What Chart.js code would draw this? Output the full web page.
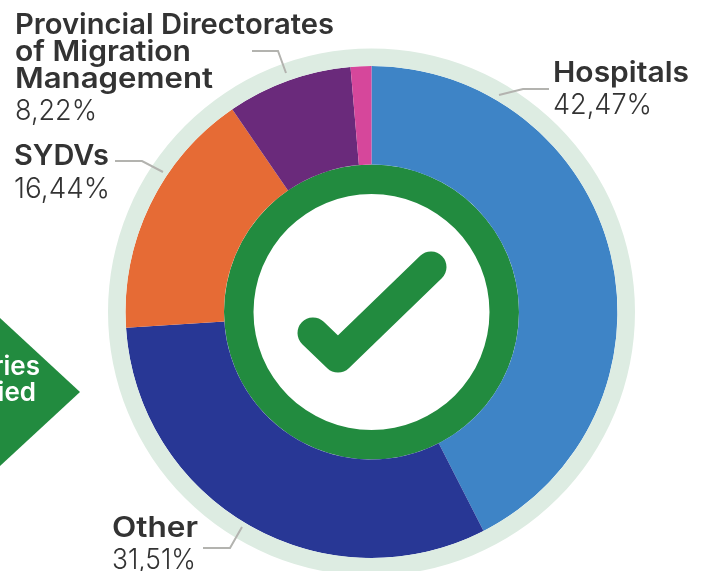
<!DOCTYPE html>
<html>
<head>
<meta charset="utf-8">
<title>Beneficiaries by institution</title>
<script src="https://cdn.jsdelivr.net/npm/chart.js@4"></script>
<style>
  html, body { margin: 0; padding: 0; background: #fff; overflow: hidden; }
  canvas { display: block; }
</style>
</head>
<body>
<canvas id="chart" width="707" height="571"></canvas>
<script>
const categories = ['Hospitals', 'Other', 'SYDVs', 'Provincial Directorates of Migration Management', 'Unlabelled'];
const shares = [42.47, 31.51, 16.44, 8.22, 1.36];
const sliceColors = ['#3e84c6', '#283795', '#e66b35', '#6a2a7b', '#d6479b'];

const GREEN = '#228b3f';
const TEXT = '#333333';
const LINE = '#b3b3af';
const BOLD = '600 28px Inter, sans-serif';
const LIGHT = '300 29px Inter, sans-serif';

// [text, font, x, baseline, width on the picture]
const labelLines = [
  ['Hospitals', BOLD, 553, 82, 136],
  ['42,47%', LIGHT, 553, 114, 99],
  ['Other', BOLD, 112, 537, 86],
  ['31,51%', LIGHT, 112, 569, 84],
  ['SYDVs', BOLD, 14, 165, 95],
  ['16,44%', LIGHT, 14, 198, 96],
  ['Provincial Directorates', BOLD, 15, 34, 319],
  ['of Migration', BOLD, 15, 61, 176],
  ['Management', BOLD, 15, 88, 198],
  ['8,22%', LIGHT, 15, 120, 82]
];
const leaders = [
  [[499, 95], [523, 89], [549, 89]],
  [[252, 51], [278, 51], [286, 73]],
  [[115, 161], [142, 161], [163, 172]],
  [[203, 548], [230, 548], [242, 527]]
];

// Montserrat is not installed, so stretch Inter to the original line width
function fitText(ctx, line) {
  const [text, font, x, y, width] = line;
  ctx.save();
  ctx.font = font;
  ctx.translate(x, y);
  ctx.scale(width / ctx.measureText(text).width, 1);
  ctx.fillText(text, 0, 0);
  ctx.restore();
}

// arrow on the left and the tick in the middle
const extras = {
  id: 'extras',
  beforeDatasetsDraw(chart) {
    const ctx = chart.ctx;
    ctx.save();
    ctx.fillStyle = GREEN;
    ctx.beginPath();
    ctx.moveTo(0, 318);
    ctx.lineTo(80, 392);
    ctx.lineTo(0, 466);
    ctx.closePath();
    ctx.fill();
    ctx.fillStyle = '#fff';
    ctx.font = '600 26px Inter, sans-serif';
    ctx.textAlign = 'right';
    ctx.fillText('ries', 40, 375);
    ctx.fillText('ied', 36, 401);
    ctx.restore();
  },
  afterDatasetsDraw(chart) {
    const ctx = chart.ctx;
    ctx.save();
    ctx.strokeStyle = GREEN;
    ctx.lineWidth = 31;
    ctx.lineCap = 'round';
    ctx.lineJoin = 'round';
    ctx.beginPath();
    ctx.moveTo(313, 333);
    ctx.lineTo(338, 357);
    ctx.lineTo(431, 267);
    ctx.stroke();

    ctx.strokeStyle = LINE;
    ctx.lineWidth = 2;
    ctx.lineCap = 'butt';
    ctx.lineJoin = 'miter';
    leaders.forEach(pts => {
      ctx.beginPath();
      pts.forEach((p, i) => i ? ctx.lineTo(p[0], p[1]) : ctx.moveTo(p[0], p[1]));
      ctx.stroke();
    });

    ctx.fillStyle = TEXT;
    ctx.textAlign = 'left';
    labelLines.forEach(line => fitText(ctx, line));
    ctx.restore();
  }
};

new Chart(document.getElementById('chart'), {
  type: 'doughnut',
  data: {
    labels: categories,
    datasets: [
      { data: [1], backgroundColor: ['#ddece2'], borderWidth: 0, weight: 17.5, clip: false },
      { data: shares, backgroundColor: sliceColors, borderWidth: 0, weight: 98.5, clip: false },
      { data: [1], backgroundColor: [GREEN], borderWidth: 0, weight: 29.5, clip: false }
    ]
  },
  options: {
    responsive: false,
    animation: false,
    radius: 263.5,
    cutout: (118 / 263.5 * 100) + '%',
    layout: { padding: { left: 36, top: 53 } },
    plugins: { legend: { display: false }, tooltip: { enabled: false } }
  },
  plugins: [extras]
});
</script>
</body>
</html>
